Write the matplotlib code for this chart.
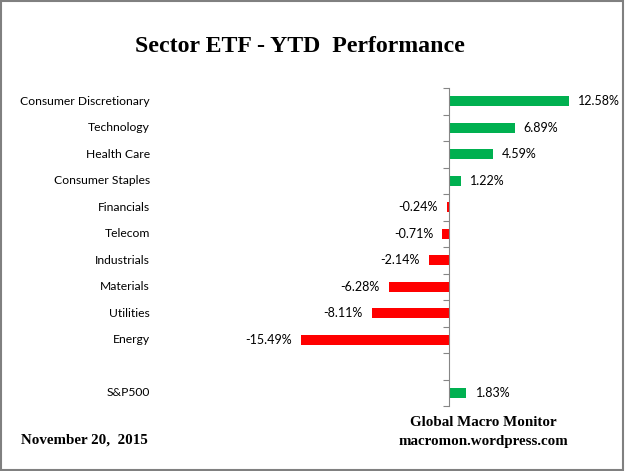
import matplotlib
matplotlib.use('Agg')
import numpy as np
import matplotlib.pyplot as plt
from matplotlib.patches import Rectangle
from matplotlib.transforms import blended_transform_factory

# data
sectors = ['Consumer Discretionary', 'Technology', 'Health Care', 'Consumer Staples',
           'Financials', 'Telecom', 'Industrials', 'Materials', 'Utilities', 'Energy']
values = [12.58, 6.89, 4.59, 1.22, -0.24, -0.71, -2.14, -6.28, -8.11, -15.49]
bench_name = 'S&P500'
bench_value = 1.83

GREEN = '#00B050'
RED = '#FF0000'
AXGREY = '#868686'

names = sectors + [bench_name]
vals = values + [bench_value]
pos = list(range(len(sectors))) + [len(sectors) + 1]

fig = plt.figure(figsize=(6.25, 4.71), dpi=100)

# axes placed in pixel terms: zero line at x=449, 9.55 px per %
W, H = 625.0, 471.0
x0, x1 = 190, 612
ppu = 9.55
ax = fig.add_axes([x0 / W, (H - 406) / H, (x1 - x0) / W, (406 - 88) / H])
ax.set_xlim((x0 - 449) / ppu, (x1 - 449) / ppu)
ax.set_ylim(len(sectors) + 1.5, -0.5)

colors = [GREEN if v >= 0 else RED for v in vals]
ax.barh(pos, vals, height=0.38, color=colors)

for s in ['top', 'right', 'bottom']:
    ax.spines[s].set_visible(False)
ax.spines['left'].set_position(('data', 0))
ax.spines['left'].set_color(AXGREY)
ax.set_xticks([])
ax.set_yticks(np.arange(-0.5, len(sectors) + 2, 1))
ax.set_yticklabels([])
ax.tick_params(axis='y', direction='out', length=4, color=AXGREY)

trans = blended_transform_factory(fig.transFigure, ax.transData)
for n, p in zip(names, pos):
    ax.text(150 / W, p, n, transform=trans, ha='right', va='center',
            fontsize=8.7, family='Lato')

for v, p in zip(vals, pos):
    if v >= 0:
        ax.annotate('%.2f%%' % v, (v, p), xytext=(6.5, 0), textcoords='offset points',
                    ha='left', va='center', fontsize=9, family='Lato')
    else:
        ax.annotate('%.2f%%' % v, (v, p), xytext=(-6.5, 0), textcoords='offset points',
                    ha='right', va='center', fontsize=9, family='Lato')

serif = 'Liberation Serif'
fig.text(300 / W, 1 - 47 / H, 'Sector ETF - YTD  Performance', ha='center', va='center',
         fontsize=17.2, fontweight='bold', family=serif)
fig.text(483 / W, 1 - 423 / H, 'Global Macro Monitor', ha='center', va='center',
         fontsize=10.8, fontweight='bold', family=serif)
fig.text(483 / W, 1 - 441 / H, 'macromon.wordpress.com', ha='center', va='center',
         fontsize=10.8, fontweight='bold', family=serif)
fig.text(21 / W, 1 - 440 / H, 'November 20,  2015', ha='left', va='center',
         fontsize=10.8, fontweight='bold', family=serif)

fig.patches.append(Rectangle((0.5 / W, 1.5 / H), 1 - 3 / W, 1 - 2.5 / H,
                             transform=fig.transFigure, fill=False,
                             edgecolor='#808080', linewidth=1.5))

fig.savefig('out.png', dpi=100)
